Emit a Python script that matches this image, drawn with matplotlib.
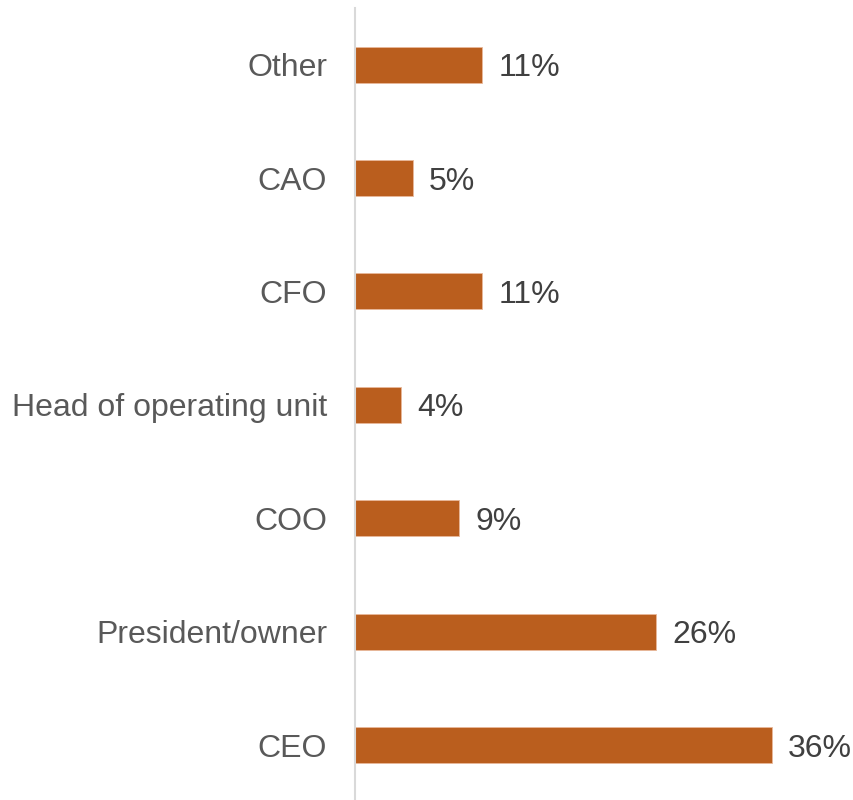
import matplotlib
matplotlib.use("Agg")
import matplotlib.pyplot as plt

categories = ["CEO", "President/owner", "COO", "Head of operating unit", "CFO", "CAO", "Other"]
values = [36, 26, 9, 4, 11, 5, 11]

plt.rcParams["font.family"] = ["Liberation Sans", "DejaVu Sans"]

fig = plt.figure(figsize=(8.54, 8.0), dpi=100)
ax = fig.add_axes([355 / 854, 0.0, (854 - 355) / 854, 792 / 800])

bar_color = "#BA5E1E"
ys = list(range(len(categories)))
ax.barh(ys, values, height=0.317, color=bar_color, edgecolor="#E8B89A", linewidth=0.6)

for y, v in zip(ys, values):
    ax.annotate(f"{v}%", xy=(v, y), xytext=(11.5, 0), textcoords="offset points",
                va="center_baseline", ha="left", fontsize=23, color="#404040")

ax.set_xlim(0, 43.1)
ax.set_ylim(-0.485, 6.50)
ax.set_yticks(ys)
ax.set_yticklabels(categories, fontsize=23, color="#595959", va="center_baseline")
ax.tick_params(axis="y", length=0, pad=20)
ax.set_xticks([])

for side in ("top", "right", "bottom"):
    ax.spines[side].set_visible(False)
ax.spines["left"].set_color("#D9D9D9")
ax.spines["left"].set_linewidth(1.5)

fig.savefig("out.png", dpi=100)
